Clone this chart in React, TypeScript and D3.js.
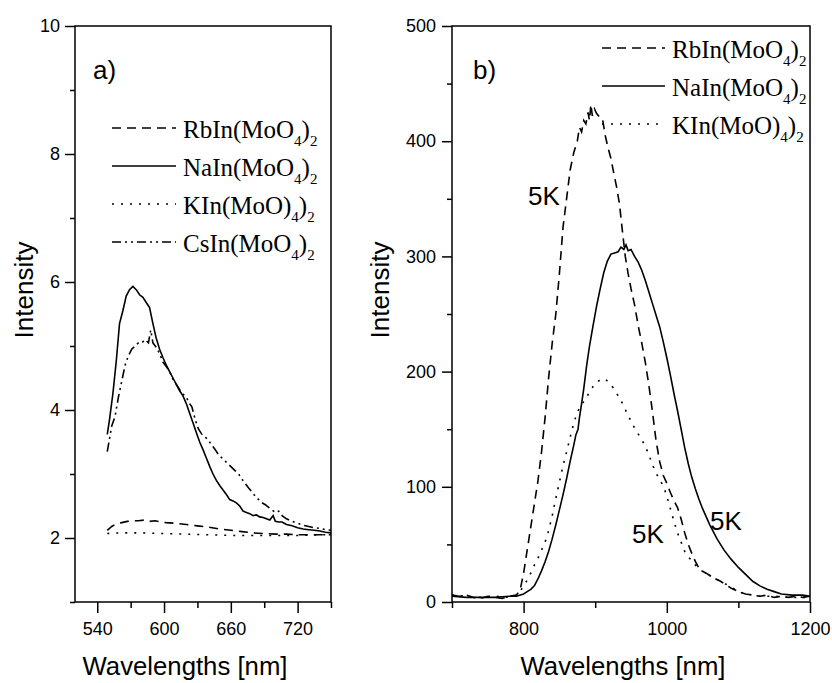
import React, { useEffect, useRef } from "react";
import * as d3 from "d3";

type Pt = [number, number];

// panel a) spectra: [wavelength nm, intensity]
const rbA: Pt[] = [[549,2.12],[553,2.18],[557,2.22],[562,2.24],[567,2.26],[572,2.27],[577,2.27],[582,2.28],[587,2.26],[592,2.27],[597,2.25],[602,2.24],[610,2.23],[620,2.21],[630,2.19],[640,2.17],[650,2.14],[660,2.12],[670,2.1],[680,2.08],[690,2.07],[700,2.06],[710,2.06],[720,2.05],[730,2.05],[740,2.05],[750,2.05]];
const naA: Pt[] = [[549,3.62],[551,3.85],[554,4.25],[557,4.75],[560,5.35],[563,5.55],[566,5.78],[569,5.88],[572,5.93],[575,5.88],[578,5.8],[581,5.76],[584,5.68],[587,5.6],[590,5.35],[593,5.12],[596,4.95],[599,4.82],[602,4.7],[605,4.6],[608,4.5],[611,4.4],[614,4.3],[617,4.22],[620,4.1],[623,3.95],[626,3.8],[629,3.65],[632,3.5],[635,3.38],[638,3.25],[641,3.12],[644,3.0],[647,2.9],[650,2.82],[653,2.75],[656,2.68],[659,2.6],[662,2.58],[665,2.55],[668,2.5],[671,2.42],[674,2.4],[677,2.38],[680,2.35],[683,2.36],[686,2.33],[689,2.32],[692,2.3],[695,2.28],[698,2.35],[700,2.26],[703,2.25],[706,2.25],[710,2.21],[715,2.19],[720,2.16],[725,2.14],[730,2.13],[735,2.12],[740,2.11],[745,2.09],[750,2.08]];
const kA: Pt[] = [[549,2.07],[560,2.08],[580,2.08],[600,2.07],[620,2.06],[640,2.05],[660,2.04],[680,2.04],[700,2.04],[720,2.04],[740,2.05],[750,2.05]];
const csA: Pt[] = [[549,3.35],[551,3.55],[553,3.75],[556,3.9],[559,4.2],[562,4.45],[565,4.7],[568,4.85],[571,4.95],[574,5.0],[577,5.05],[580,5.05],[583,5.1],[586,5.05],[588,5.25],[590,5.05],[593,4.98],[596,4.88],[599,4.75],[602,4.68],[605,4.6],[608,4.48],[611,4.4],[614,4.32],[617,4.25],[620,4.2],[623,4.1],[625,4.05],[628,3.85],[631,3.7],[634,3.62],[637,3.58],[640,3.52],[643,3.45],[646,3.38],[649,3.3],[652,3.25],[655,3.2],[658,3.15],[661,3.1],[664,3.05],[667,3.0],[670,2.92],[673,2.85],[676,2.78],[679,2.72],[682,2.65],[685,2.6],[688,2.55],[691,2.52],[694,2.48],[697,2.44],[700,2.4],[703,2.42],[706,2.35],[710,2.3],[715,2.26],[720,2.23],[725,2.2],[730,2.18],[735,2.16],[740,2.15],[745,2.13],[750,2.12]];

// panel b) spectra at 5K
const rbB: Pt[] = [[700,6],[710,5],[720,6],[730,4],[740,3],[750,5],[760,4],[770,3],[780,5],[790,6],[795,10],[800,25],[805,45],[810,65],[815,85],[820,105],[825,130],[830,160],[835,195],[840,225],[845,250],[850,285],[855,325],[860,350],[865,375],[870,390],[875,400],[878,412],[881,408],[884,418],[887,415],[890,425],[892,418],[894,432],[896,422],[899,428],[902,424],[906,421],[910,420],[914,405],[918,394],[922,385],[926,372],[930,360],[934,345],[938,322],[942,300],[946,285],[950,272],[955,258],[960,240],[965,225],[970,208],[975,188],[980,165],[985,140],[990,122],[995,110],[1000,103],[1005,95],[1010,88],[1015,82],[1020,72],[1025,60],[1030,50],[1035,42],[1040,35],[1046,28],[1055,25],[1065,21],[1075,18],[1090,12],[1100,9],[1110,7],[1120,6],[1130,5],[1140,6],[1150,4],[1160,5],[1170,4],[1180,5],[1190,4],[1200,5]];
const naB: Pt[] = [[700,5],[720,4],[740,4],[760,4],[780,5],[790,5],[800,7],[805,9],[810,11],[815,14],[820,20],[825,27],[830,35],[835,44],[840,55],[845,67],[850,80],[855,93],[860,107],[865,122],[870,136],[873,145],[876,150],[878,160],[880,168],[884,185],[888,205],[892,222],[897,240],[902,257],[907,272],[912,286],[917,296],[922,302],[927,303],[932,304],[936,308],[940,306],[943,310],[946,305],[950,306],[955,300],[960,295],[965,288],[970,279],[975,269],[980,259],[985,249],[990,239],[995,226],[1000,212],[1005,197],[1010,181],[1015,166],[1020,150],[1025,134],[1030,120],[1035,108],[1040,98],[1045,89],[1050,81],[1060,67],[1070,55],[1080,45],[1090,37],[1100,30],[1110,24],[1120,18],[1130,14],[1140,11],[1150,9],[1160,7],[1175,6],[1190,6],[1200,5]];
const kB: Pt[] = [[700,6],[720,5],[740,4],[760,5],[780,4],[790,6],[795,9],[800,14],[805,19],[810,25],[815,32],[820,38],[825,45],[830,52],[835,62],[840,75],[845,90],[850,104],[855,118],[860,130],[865,143],[870,155],[875,165],[880,170],[885,175],[890,180],[895,185],[900,190],[905,192],[910,194],[915,193],[920,190],[925,186],[930,181],[935,176],[940,170],[945,163],[950,157],[955,151],[960,146],[965,141],[970,135],[975,128],[980,119],[985,112],[990,106],[995,101],[1000,92],[1005,81],[1010,70],[1015,60],[1020,52],[1025,44],[1030,39],[1035,36],[1040,32],[1046,28],[1055,25],[1065,21],[1075,18],[1090,13],[1100,9],[1110,7],[1130,5],[1150,5],[1170,4],[1200,4]];

// tick values
const xMajorA = [540, 600, 660, 720];
const xMinorA = [570, 630, 690, 750];
const yMajorA = [2, 4, 6, 8, 10];
const yMinorA = [1, 3, 5, 7, 9];
const xMajorB = [800, 1000, 1200];
const xMinorB = [700, 900, 1100];
const yMajorB = [0, 100, 200, 300, 400, 500];
const yMinorB = [50, 150, 250, 350, 450];

// legend labels: text, subscript, text, subscript
const rbLabel = ["RbIn(MoO", "4", ")", "2"];
const naLabel = ["NaIn(MoO", "4", ")", "2"];
const kLabel = ["KIn(MoO)", "4", ")", "2"];
const csLabel = ["CsIn(MoO", "4", ")", "2"];

const SANS = "'Liberation Sans', Arial, Helvetica, sans-serif";
const SERIF = "'Liberation Serif', 'Times New Roman', serif";
const DASH = "9,6";
const DOT = "2,7";
const DASHDOT = "9,4,2,4,2,4";

const App = () => {
  const chartRef = useRef<SVGSVGElement>(null);

  useEffect(() => {
    const svg = d3.select(chartRef.current);
    svg.selectAll("*").remove();

    const drawPanel = (p: any) => {
      const x = d3.scaleLinear().domain(p.xDomain).range([p.left, p.right]);
      const y = d3.scaleLinear().domain(p.yDomain).range([p.bottom, p.top]);
      const g = svg.append("g");

      // axes
      const styleAxis = (sel: any) => {
        sel.select(".domain").remove();
        sel.selectAll("line").attr("stroke", "#000").attr("stroke-width", 1.5);
        sel.selectAll("text").attr("font-family", SANS).attr("font-size", 18).attr("fill", "#000");
      };
      g.append("g").attr("transform", `translate(0,${p.bottom})`)
        .call(d3.axisBottom(x).tickValues(p.xMajor).tickSize(11).tickPadding(9).tickSizeOuter(0).tickFormat(d3.format("d")))
        .call(styleAxis);
      g.append("g").attr("transform", `translate(0,${p.bottom})`)
        .call(d3.axisBottom(x).tickValues(p.xMinor).tickSize(6).tickSizeOuter(0).tickFormat(() => ""))
        .call(styleAxis);
      g.append("g").attr("transform", `translate(${p.left},0)`)
        .call(d3.axisLeft(y).tickValues(p.yMajor).tickSize(10).tickPadding(p.yPad).tickSizeOuter(0).tickFormat(d3.format("d")))
        .call(styleAxis);
      g.append("g").attr("transform", `translate(${p.left},0)`)
        .call(d3.axisLeft(y).tickValues(p.yMinor).tickSize(5).tickSizeOuter(0).tickFormat(() => ""))
        .call(styleAxis);

      // frame
      g.append("rect")
        .attr("x", p.left).attr("y", p.top)
        .attr("width", p.right - p.left).attr("height", p.bottom - p.top)
        .attr("fill", "none").attr("stroke", "#000").attr("stroke-width", 1.5);

      // curves
      const clipId = `clip-${p.name}`;
      svg.append("clipPath").attr("id", clipId).append("rect")
        .attr("x", p.left).attr("y", p.top)
        .attr("width", p.right - p.left).attr("height", p.bottom - p.top);
      const line = d3.line<Pt>().x(d => x(d[0])).y(d => y(d[1]));
      p.series.forEach((s: any) => {
        g.append("path")
          .attr("clip-path", `url(#${clipId})`)
          .attr("d", line(s.data))
          .attr("fill", "none")
          .attr("stroke", "#000")
          .attr("stroke-width", 1.6)
          .attr("stroke-dasharray", s.dash);
      });

      // legend
      p.series.forEach((s: any, i: number) => {
        const ly = p.legY + i * 38;
        g.append("line")
          .attr("x1", p.legX0).attr("x2", p.legX1).attr("y1", ly).attr("y2", ly)
          .attr("stroke", "#000").attr("stroke-width", 1.6)
          .attr("stroke-dasharray", s.dash);
        const t = g.append("text")
          .attr("x", p.legX1 + 7).attr("y", ly + 10)
          .attr("font-family", SERIF).attr("font-size", 25).attr("fill", "#000");
        t.append("tspan").text(s.label[0]);
        t.append("tspan").attr("font-size", 15).attr("dy", 8).text(s.label[1]);
        t.append("tspan").attr("font-size", 25).attr("dy", -8).text(s.label[2]);
        t.append("tspan").attr("font-size", 15).attr("dy", 8).text(s.label[3]);
      });

      // panel tag
      g.append("text").attr("x", p.tagX).attr("y", 79)
        .attr("font-family", SANS).attr("font-size", 26).text(p.tag);

      // axis titles
      g.append("text")
        .attr("transform", `translate(${p.yTitleX},290) rotate(-90)`)
        .attr("text-anchor", "middle")
        .attr("font-family", SANS).attr("font-size", 26)
        .text("Intensity");
      g.append("text")
        .attr("x", (p.left + p.right) / 2 + p.xTitleShift).attr("y", 675)
        .attr("text-anchor", "middle")
        .attr("font-family", SANS).attr("font-size", 25)
        .attr("textLength", 205).attr("lengthAdjust", "spacingAndGlyphs")
        .text("Wavelengths [nm]");

      (p.notes || []).forEach((n: any) => {
        g.append("text").attr("x", n[0]).attr("y", n[1])
          .attr("font-family", SANS).attr("font-size", 26).text("5K");
      });
    };

    drawPanel({
      name: "a", tag: "a)", tagX: 93,
      left: 75, right: 331, top: 26, bottom: 602,
      xDomain: [520, 750], yDomain: [1, 10],
      xMajor: xMajorA, xMinor: xMinorA, yMajor: yMajorA, yMinor: yMinorA, yPad: 5,
      series: [
        { data: rbA, dash: DASH, label: rbLabel },
        { data: naA, dash: null, label: naLabel },
        { data: kA, dash: DOT, label: kLabel },
        { data: csA, dash: DASHDOT, label: csLabel },
      ],
      legX0: 112, legX1: 176, legY: 128,
      yTitleX: 33, xTitleShift: -18,
    });

    drawPanel({
      name: "b", tag: "b)", tagX: 473,
      left: 452, right: 810, top: 26, bottom: 602,
      xDomain: [700, 1200], yDomain: [0, 500],
      xMajor: xMajorB, xMinor: xMinorB, yMajor: yMajorB, yMinor: yMinorB, yPad: 6,
      series: [
        { data: rbB, dash: DASH, label: rbLabel },
        { data: naB, dash: null, label: naLabel },
        { data: kB, dash: DOT, label: kLabel },
      ],
      legX0: 602, legX1: 665, legY: 48,
      yTitleX: 389, xTitleShift: -8,
      notes: [[528, 205], [632, 543], [710, 530]],
    });
  }, []);

  return (
    <svg
      ref={chartRef}
      width={832}
      height={683}
      style={{ position: "absolute", left: 0, top: 0, background: "#fff" }}
    />
  );
};

export default App;
